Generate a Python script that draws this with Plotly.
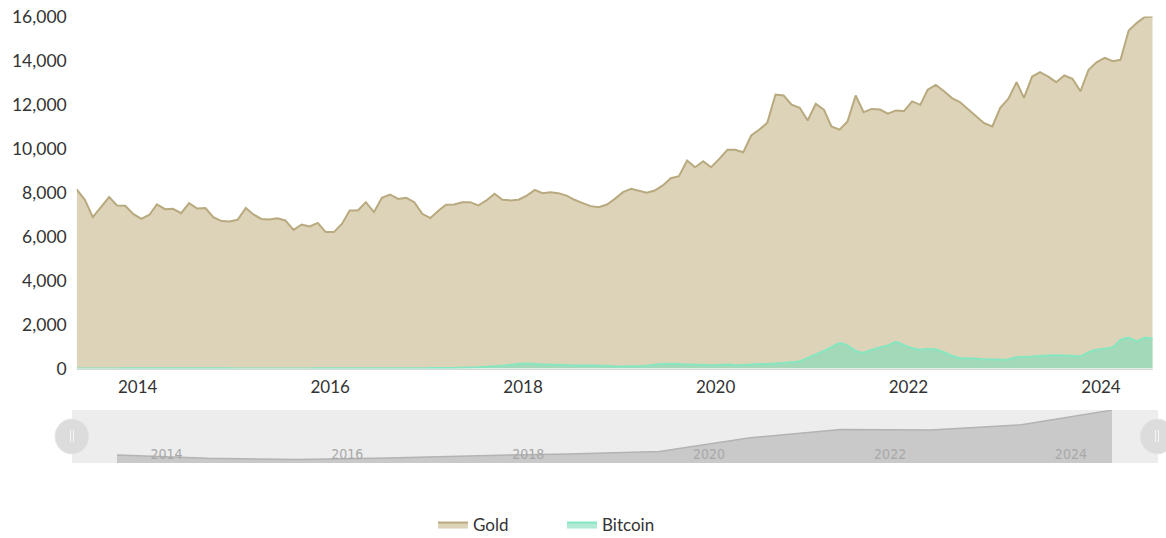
import plotly.graph_objects as go

W, H = 1166, 538
B = 60  # bottom margin reserved for the legend
HP = H - B

start_year, start_month = 2013, 5
n_months = 135
months = []
y, m = start_year, start_month
for _ in range(n_months):
    months.append(f"{y}-{m:02d}-15")
    m += 1
    if m > 12:
        m = 1
        y += 1

gold = [
    8140, 7670, 6880, 7360, 7790, 7410, 7400, 7030,
    6800, 6990, 7460, 7240, 7260, 7060, 7520, 7270, 7290, 6880, 6700, 6680,
    6760, 7300, 7010, 6800, 6770, 6830, 6730, 6300, 6545, 6455, 6620, 6200,
    6200, 6580, 7180, 7180, 7560, 7110, 7760, 7910, 7710, 7760, 7560, 7030,
    6840, 7180, 7440, 7455, 7560, 7560, 7410, 7640, 7940, 7670, 7640, 7670,
    7860, 8120, 7970, 8015, 7970, 7860, 7670, 7515, 7380, 7330, 7455, 7710,
    8015, 8170, 8090, 7985, 8090, 8320, 8650, 8740, 9455, 9150, 9420, 9150,
    9530, 9940, 9940, 9830, 10590, 10860, 11170, 12455, 12410, 11990, 11850, 11270,
    12030, 11760, 11000, 10860, 11230, 12410, 11650, 11800, 11770, 11580, 11730, 11700,
    12140, 11985, 12670, 12890, 12610, 12290, 12110, 11780, 11455, 11150, 11000, 11850,
    12260, 13015, 12300, 13270, 13470, 13270, 13015, 13320, 13170, 12600, 13580, 13920,
    14120, 13970, 14030, 15360, 15700, 15980, 16000,
]

bitcoin = [
    2, 2, 2, 2, 3, 3, 12, 15,
    16, 12, 10, 9, 9, 12, 12, 11, 9, 7, 7, 6,
    5, 5, 5, 5, 5, 5, 5, 5, 5, 5, 7, 8,
    8, 8, 9, 9, 9, 11, 13, 12, 12, 13, 14, 15,
    18, 20, 22, 27, 35, 45, 55, 80, 100, 120, 160, 210,
    230, 200, 185, 170, 165, 150, 140, 140, 135, 130, 125, 95,
    95, 100, 105, 125, 165, 200, 215, 200, 180, 175, 165, 150,
    160, 185, 150, 160, 185, 200, 210, 230, 250, 280, 330, 480,
    640, 800, 970, 1150, 1050, 800, 720, 850, 960, 1050, 1200, 1060,
    930, 850, 890, 860, 740, 580, 470, 470, 450, 420, 410, 400,
    410, 515, 530, 545, 570, 590, 600, 590, 580, 560, 740, 850,
    900, 970, 1300, 1395, 1240, 1395, 1350,
]

year_ticks = ["2014-01-01", "2016-01-01", "2018-01-01", "2020-01-01", "2022-01-01", "2024-01-01"]
year_labels = ["2014", "2016", "2018", "2020", "2022", "2024"]
y_ticks = [0, 2000, 4000, 6000, 8000, 10000, 12000, 14000, 16000]
y_labels = ["0", "2,000", "4,000", "6,000", "8,000", "10,000", "12,000", "14,000", "16,000"]

# overview (slider) series: yearly samples of gold
slider_x = months[1::12]
slider_y = gold[1::12]


def px(x):
    return x / W


def py(yv):
    # paper fraction for a pixel row (paper area = top HP pixels)
    return 1 - yv / HP


FONT = "Lato, 'Open Sans', sans-serif"

fig = go.Figure()
fig.add_trace(go.Scatter(
    x=months, y=gold, name="Gold", mode="lines",
    line=dict(color="#b8a97e", width=2),
    fill="tozeroy", fillcolor="#ddd3b8",
))
fig.add_trace(go.Scatter(
    x=months, y=bitcoin, name="Bitcoin", mode="lines",
    line=dict(color="#86e6c0", width=2, shape="spline", smoothing=0.6),
    fill="tozeroy", fillcolor="rgba(125,222,185,0.6)",
))
fig.add_trace(go.Scatter(
    x=slider_x, y=slider_y, mode="lines", showlegend=False, hoverinfo="skip",
    line=dict(color="#b3b3b3", width=1.5),
    fill="tozeroy", fillcolor="#c9c9c9",
    xaxis="x2", yaxis="y2",
))

shapes = [
    dict(type="rect", xref="paper", yref="paper", x0=px(72), x1=px(1158), y0=py(463), y1=py(410),
         fillcolor="#ededed", line=dict(width=0), layer="below"),
]
for cx in (72, 1157):
    shapes.append(dict(type="circle", xref="paper", yref="paper",
                       x0=px(cx - 17), x1=px(cx + 17), y0=py(454), y1=py(419),
                       fillcolor="#dcdcdc", line=dict(color="#e8e8e8", width=1)))
    for dx in (-1.5, 1.5):
        shapes.append(dict(type="line", xref="paper", yref="paper",
                           x0=px(cx + dx), x1=px(cx + dx), y0=py(442), y1=py(430),
                           line=dict(color="#f5f5f5", width=1)))

fig.update_layout(
    width=W, height=H,
    margin=dict(l=0, r=0, t=0, b=B),
    paper_bgcolor="white", plot_bgcolor="rgba(0,0,0,0)",
    font=dict(family=FONT, color="#333333", size=16),
    showlegend=True,
    legend=dict(orientation="h", x=px(562), xanchor="center", xref="container",
                y=1 - 525 / H, yanchor="middle", yref="container",
                font=dict(size=17, color="#333333"), entrywidth=84, entrywidthmode="pixels"),
    xaxis=dict(domain=[px(76.7), px(1152.7)], range=[months[0], months[-1]],
               tickvals=year_ticks, ticktext=year_labels, showgrid=False, zeroline=False,
               showline=True, linecolor="#d6d6d6", linewidth=1, ticks="",
               ticklabelstandoff=3,
               tickfont=dict(size=17, color="#333333"), anchor="y", automargin=False),
    yaxis=dict(domain=[py(368.5), py(16.5)], range=[0, 16000], tickvals=y_ticks, ticktext=y_labels,
               showgrid=False, zeroline=False, showline=False, ticks="",
               tickfont=dict(size=17.5, color="#333333"), ticklabelstandoff=9, automargin=False),
    xaxis2=dict(domain=[px(117), px(1112)], range=[slider_x[0], slider_x[-1]],
                tickvals=year_ticks, ticktext=year_labels, showgrid=False, zeroline=False,
                showline=False, ticks="", ticklabelposition="inside", anchor="y2",
                ticklabelstandoff=-2,
                tickfont=dict(size=14, color="#a8a8a8", family="'Liberation Sans Narrow', 'DejaVu Sans Condensed', sans-serif"),
                automargin=False),
    yaxis2=dict(domain=[py(463), py(410)], range=[6200, 16000], showticklabels=False,
                showgrid=False, zeroline=False, showline=False, anchor="x2", automargin=False),
    shapes=shapes,
)

fig.write_html("out.html")
